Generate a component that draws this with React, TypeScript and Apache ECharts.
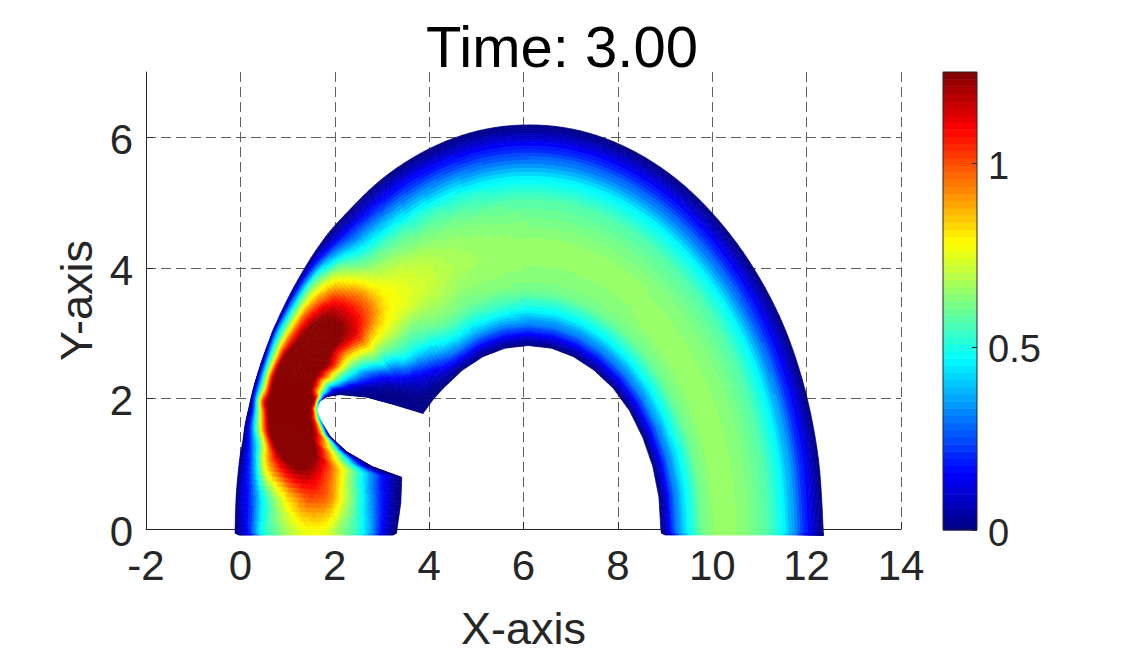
import React, { useEffect, useRef } from "react";
import * as echarts from "echarts";

const xTicks = [-2, 0, 2, 4, 6, 8, 10, 12, 14];
const yTicks = [0, 2, 4, 6];
const barTicks = [0, 0.5, 1];
const titleText = "Time: 3.00";
const vMax = 1.25;
const levelCount = 64;

const outerX = [-0.03, -0.1, -0.11, -0.086, -0.015, 0.05, 0.1, 0.18, 0.23, 0.3, 0.385, 0.474, 0.62, 0.725, 1.02, 1.35, 1.71, 2.12, 3.0, 3.99, 5.04, 6.12, 7.2, 8.25, 9.24, 10.12, 10.89, 11.52, 11.97, 12.25, 12.35, 12.34, 12.27];
const outerY = [-0.09, -0.06, 0, 0.54, 1.07, 1.34, 1.6, 1.86, 2.02, 2.22, 2.42, 2.62, 2.906, 3.1, 3.55, 3.98, 4.38, 4.74, 5.36, 5.82, 6.1, 6.19, 6.1, 5.82, 5.36, 4.74, 3.98, 3.1, 2.12, 1.07, 0, -0.06, -0.09];
const innerX = [3.24, 3.31, 3.32, 3.4, 3.42, 2.81, 2.26, 1.9, 1.69, 1.62, 1.69, 1.84, 2.11, 2.68, 3.23, 3.87, 4.08, 4.29, 4.7, 5.14, 5.61, 6.1, 6.59, 7.06, 7.5, 7.91, 8.25, 8.53, 8.74, 8.87, 8.91, 8.92, 9.0];
const innerY = [-0.09, -0.06, 0, 0.4, 0.79, 0.95, 1.18, 1.42, 1.68, 1.83, 1.96, 2.03, 2.06, 2.02, 1.91, 1.77, 1.98, 2.15, 2.43, 2.64, 2.77, 2.81, 2.77, 2.64, 2.43, 2.15, 1.81, 1.4, 0.96, 0.49, 0, -0.06, -0.09];

// fraction of the way across the band, outer edge to inner edge
const acrossNodes = [0, 0.04, 0.08, 0.16, 0.25, 0.34, 0.44, 0.56, 0.66, 0.75, 0.84, 0.91, 0.955, 1];

const fieldRows = [
  [0, 0.08, 0.18, 0.47, 0.6, 0.7, 0.77, 0.76, 0.64, 0.54, 0.36, 0.16, 0.06, 0],
  [0, 0.08, 0.18, 0.47, 0.6, 0.7, 0.77, 0.76, 0.64, 0.54, 0.36, 0.16, 0.06, 0],
  [0, 0.08, 0.18, 0.47, 0.6, 0.7, 0.77, 0.76, 0.64, 0.54, 0.36, 0.16, 0.06, 0],
  [0, 0.12, 0.2, 0.48, 0.7, 0.88, 1.0, 0.95, 0.72, 0.52, 0.3, 0.14, 0.05, 0],
  [0, 0.13, 0.3, 0.8, 1.1, 1.25, 1.22, 1.0, 0.72, 0.5, 0.28, 0.12, 0.05, 0],
  [0, 0.14, 0.32, 0.72, 1.2, 1.3, 1.33, 1.24, 0.95, 0.68, 0.42, 0.18, 0.07, 0],
  [0, 0.15, 0.38, 0.8, 1.25, 1.33, 1.36, 1.36, 1.28, 1.0, 0.72, 0.45, 0.22, 0],
  [0, 0.14, 0.4, 0.85, 1.25, 1.35, 1.38, 1.38, 1.35, 1.3, 1.1, 0.78, 0.48, 0.04],
  [0, 0.2, 0.45, 0.95, 1.26, 1.35, 1.4, 1.4, 1.35, 1.3, 1.26, 1.05, 0.75, 0.4],
  [0, 0.18, 0.38, 0.75, 1.15, 1.35, 1.38, 1.38, 1.38, 1.35, 1.3, 1.2, 0.95, 0.55],
  [0, 0.2, 0.4, 0.8, 1.2, 1.35, 1.38, 1.38, 1.38, 1.35, 1.3, 1.2, 0.85, 0.3],
  [0, 0.2, 0.45, 0.8, 1.24, 1.35, 1.36, 1.36, 1.32, 1.27, 0.95, 0.65, 0.35, 0],
  [0, 0.3, 0.5, 0.85, 1.24, 1.35, 1.38, 1.34, 1.27, 0.9, 0.52, 0.2, 0.07, 0],
  [0, 0.35, 0.55, 0.95, 1.28, 1.38, 1.38, 1.24, 0.78, 0.47, 0.15, 0.05, 0.02, 0],
  [0, 0.3, 0.55, 0.95, 1.24, 1.3, 1.26, 0.85, 0.52, 0.25, 0.06, 0.02, 0.01, 0],
  [0, 0.25, 0.55, 0.85, 1.12, 1.18, 1.12, 0.76, 0.47, 0.18, 0.04, 0.01, 0, 0],
  [0, 0.12, 0.32, 0.62, 0.8, 0.95, 0.96, 0.77, 0.6, 0.43, 0.17, 0.07, 0.02, 0],
  [0, 0.08, 0.2, 0.42, 0.6, 0.72, 0.79, 0.75, 0.62, 0.5, 0.3, 0.13, 0.05, 0],
  [0, 0.07, 0.16, 0.34, 0.52, 0.62, 0.7, 0.72, 0.67, 0.6, 0.47, 0.29, 0.13, 0],
  [0, 0.06, 0.15, 0.31, 0.49, 0.59, 0.65, 0.675, 0.65, 0.6, 0.48, 0.3, 0.14, 0],
  [0, 0.06, 0.14, 0.29, 0.47, 0.57, 0.63, 0.66, 0.65, 0.61, 0.49, 0.3, 0.14, 0],
  [0, 0.06, 0.14, 0.29, 0.47, 0.56, 0.62, 0.655, 0.64, 0.6, 0.47, 0.3, 0.14, 0],
  [0, 0.06, 0.14, 0.29, 0.47, 0.56, 0.62, 0.655, 0.64, 0.6, 0.47, 0.3, 0.14, 0],
  [0, 0.06, 0.14, 0.29, 0.47, 0.56, 0.62, 0.65, 0.64, 0.6, 0.47, 0.3, 0.14, 0],
  [0, 0.06, 0.14, 0.29, 0.47, 0.56, 0.62, 0.65, 0.64, 0.6, 0.47, 0.3, 0.14, 0],
  [0, 0.06, 0.14, 0.29, 0.47, 0.56, 0.62, 0.65, 0.65, 0.6, 0.47, 0.3, 0.14, 0],
  [0, 0.06, 0.14, 0.29, 0.47, 0.56, 0.62, 0.65, 0.65, 0.6, 0.47, 0.3, 0.14, 0],
  [0, 0.06, 0.14, 0.29, 0.47, 0.56, 0.62, 0.65, 0.65, 0.6, 0.47, 0.3, 0.14, 0],
  [0, 0.06, 0.14, 0.3, 0.47, 0.56, 0.62, 0.65, 0.65, 0.6, 0.46, 0.3, 0.14, 0],
  [0, 0.06, 0.14, 0.3, 0.47, 0.56, 0.62, 0.65, 0.65, 0.6, 0.46, 0.3, 0.14, 0],
  [0, 0.06, 0.14, 0.3, 0.47, 0.56, 0.62, 0.65, 0.65, 0.6, 0.46, 0.3, 0.14, 0],
  [0, 0.06, 0.14, 0.3, 0.47, 0.56, 0.62, 0.65, 0.65, 0.6, 0.46, 0.3, 0.14, 0],
  [0, 0.06, 0.14, 0.3, 0.47, 0.56, 0.62, 0.65, 0.65, 0.6, 0.46, 0.3, 0.14, 0],
];

const jetPositions = [0, 0.125, 0.375, 0.625, 0.875, 1];
const jetColors = [
  [0, 0, 128],
  [0, 0, 255],
  [0, 255, 255],
  [255, 255, 0],
  [255, 0, 0],
  [128, 0, 0],
];

function jetAt(level: number) {
  const p = (level + 0.5) / levelCount;
  let k = 0;
  while (k < jetPositions.length - 2 && p > jetPositions[k + 1]) k++;
  const f = (p - jetPositions[k]) / (jetPositions[k + 1] - jetPositions[k]);
  const c = jetColors[k].map((a, n) => Math.round(a + (jetColors[k + 1][n] - a) * f));
  return `rgb(${c[0]},${c[1]},${c[2]})`;
}
const palette = Array.from({ length: levelCount }, (_, i) => jetAt(i));
function colorOf(v: number) {
  const l = Math.floor((v / vMax) * levelCount);
  return palette[Math.max(0, Math.min(levelCount - 1, l))];
}

function cr(a: number, b: number, c: number, d: number, f: number) {
  return 0.5 * (2 * b + (c - a) * f + (2 * a - 5 * b + 4 * c - d) * f * f + (3 * b - a - 3 * c + d) * f * f * f);
}
function splineAt(arr: number[], s: number) {
  const n = arr.length - 1;
  const i = Math.min(n - 1, Math.floor(s));
  const f = s - i;
  return cr(arr[Math.max(0, i - 1)], arr[i], arr[i + 1], arr[Math.min(n, i + 2)], f);
}
function lineAt(arr: number[], s: number) {
  const i = Math.min(arr.length - 2, Math.floor(s));
  const f = s - i;
  return arr[i] + (arr[i + 1] - arr[i]) * f;
}
function fieldAt(s: number, u: number) {
  const n = fieldRows.length - 1;
  const i = Math.min(n - 1, Math.floor(s));
  const f = s - i;
  const rowAt = (r: number[]) => {
    const m = r.length - 1;
    const j = Math.min(m - 1, Math.floor(u));
    const g = u - j;
    return cr(r[Math.max(0, j - 1)], r[j], r[j + 1], r[Math.min(m, j + 2)], g);
  };
  const v = cr(
    rowAt(fieldRows[Math.max(0, i - 1)]),
    rowAt(fieldRows[i]),
    rowAt(fieldRows[i + 1]),
    rowAt(fieldRows[Math.min(n, i + 2)]),
    f
  );
  return Math.max(0, v);
}
function meshPoint(s: number, u: number): number[] {
  const t = lineAt(acrossNodes, u);
  const ox = splineAt(outerX, s);
  const oy = splineAt(outerY, s);
  const ix = lineAt(innerX, s);
  const iy = lineAt(innerY, s);
  return [ox + (ix - ox) * t, oy + (iy - oy) * t];
}

const LEFT_STATIONS = 18;

const cells: number[][] = [];
for (let i = 0; i < fieldRows.length - 1; i++) {
  for (let j = 0; j < acrossNodes.length - 1; j++) cells.push([i, j]);
}

function renderCell(params: any, api: any) {
  const [i, j] = cells[params.dataIndex];
  const children: any[] = [];
  const subS = i < LEFT_STATIONS ? 7 : 6;
  const subU = i < LEFT_STATIONS ? 7 : 5;
  for (let a = 0; a < subS; a++) {
    for (let b = 0; b < subU; b++) {
      const s0 = i + a / subS;
      const s1 = i + (a + 1) / subS;
      const u0 = j + b / subU;
      const u1 = j + (b + 1) / subU;
      const color = colorOf(fieldAt((s0 + s1) / 2, (u0 + u1) / 2));
      children.push({
        type: "polygon",
        shape: {
          points: [
            api.coord(meshPoint(s0, u0)),
            api.coord(meshPoint(s1, u0)),
            api.coord(meshPoint(s1, u1)),
            api.coord(meshPoint(s0, u1)),
          ],
        },
        style: { fill: color, stroke: color, lineWidth: 0.7 },
        silent: true,
      });
    }
  }
  return { type: "group", children };
}

const levelIndex = palette.map((_, i) => i);

function renderLevel(params: any, api: any) {
  const l = levelIndex[params.dataIndex];
  const p0 = api.coord([0, (l / levelCount) * vMax]);
  const p1 = api.coord([1, ((l + 1) / levelCount) * vMax]);
  return {
    type: "rect",
    shape: { x: p0[0], y: p1[1], width: p1[0] - p0[0], height: p0[1] - p1[1] + 0.5 },
    style: { fill: palette[l] },
    silent: true,
  };
}
function renderFrame(_: any, api: any) {
  const p0 = api.coord([0, 0]);
  const p1 = api.coord([1, vMax]);
  return {
    type: "rect",
    shape: { x: p0[0], y: p1[1], width: p1[0] - p0[0], height: p0[1] - p1[1] },
    style: { fill: "none", stroke: "#262626", lineWidth: 1 },
    silent: true,
  };
}

const FONT = "Liberation Sans";
const INK = "#262626";

export default function App() {
  const ref = useRef<HTMLDivElement>(null);
  useEffect(() => {
    const chart = echarts.init(ref.current!, undefined, { renderer: "svg" });
    const dashed = { show: true, lineStyle: { color: "#5f5f5f", type: [10, 5] as any, width: 1 } };
    chart.setOption({
      animation: false,
      backgroundColor: "#ffffff",
      title: {
        text: titleText,
        left: 557,
        top: 12,
        textAlign: "center",
        textStyle: { fontFamily: FONT, fontSize: 58, fontWeight: "normal", color: "#000000" },
      },
      grid: [
        { left: 146, top: 72, width: 755, height: 458 },
        { left: 943, top: 72, width: 34, height: 458 },
      ],
      xAxis: [
        {
          type: "value",
          gridIndex: 0,
          min: -2,
          max: 14,
          interval: 2,
          name: "X-axis",
          nameLocation: "middle",
          nameGap: 77,
          nameTextStyle: { fontFamily: FONT, fontSize: 45, color: INK },
          axisLine: { show: true, onZero: false, lineStyle: { color: INK, width: 1 } },
          axisTick: { show: true, inside: true, length: 7, lineStyle: { color: INK } },
          axisLabel: { fontFamily: FONT, fontSize: 42, color: INK, margin: 15, customValues: xTicks },
          splitLine: dashed,
        },
        { type: "value", gridIndex: 1, min: 0, max: 1, show: false },
      ],
      yAxis: [
        {
          type: "value",
          gridIndex: 0,
          min: 0,
          max: 7,
          name: "Y-axis",
          nameLocation: "middle",
          nameGap: 45,
          nameTextStyle: { fontFamily: FONT, fontSize: 45, color: INK },
          axisLine: { show: true, onZero: false, lineStyle: { color: INK, width: 1 } },
          axisTick: { show: true, inside: true, length: 7, lineStyle: { color: INK }, customValues: yTicks },
          axisLabel: { fontFamily: FONT, fontSize: 42, color: INK, margin: 13, verticalAlign: "top", lineHeight: 5, customValues: yTicks },
          splitLine: dashed,
        },
        {
          type: "value",
          gridIndex: 1,
          min: 0,
          max: vMax,
          position: "right",
          z: 5,
          axisLine: { show: false, onZero: false },
          axisTick: { show: true, inside: true, length: 5, lineStyle: { color: INK }, customValues: barTicks },
          axisLabel: { fontFamily: FONT, fontSize: 38, color: INK, margin: 11, verticalAlign: "top", lineHeight: 5, customValues: barTicks },
          splitLine: { show: false },
        },
      ],
      series: [
        {
          type: "custom",
          xAxisIndex: 0,
          yAxisIndex: 0,
          clip: false,
          silent: true,
          coordinateSystem: "cartesian2d",
          renderItem: renderCell,
          data: cells,
        },
        {
          type: "custom",
          xAxisIndex: 1,
          yAxisIndex: 1,
          silent: true,
          coordinateSystem: "cartesian2d",
          renderItem: renderLevel,
          data: levelIndex.map((l) => [0, (l / levelCount) * vMax]),
        },
        {
          type: "custom",
          xAxisIndex: 1,
          yAxisIndex: 1,
          clip: false,
          silent: true,
          z: 4,
          coordinateSystem: "cartesian2d",
          renderItem: renderFrame,
          data: [[0, 0]],
        },
      ],
    });
    return () => chart.dispose();
  }, []);
  return <div ref={ref} style={{ position: "absolute", left: 0, top: 0, width: 1125, height: 656 }} />;
}
